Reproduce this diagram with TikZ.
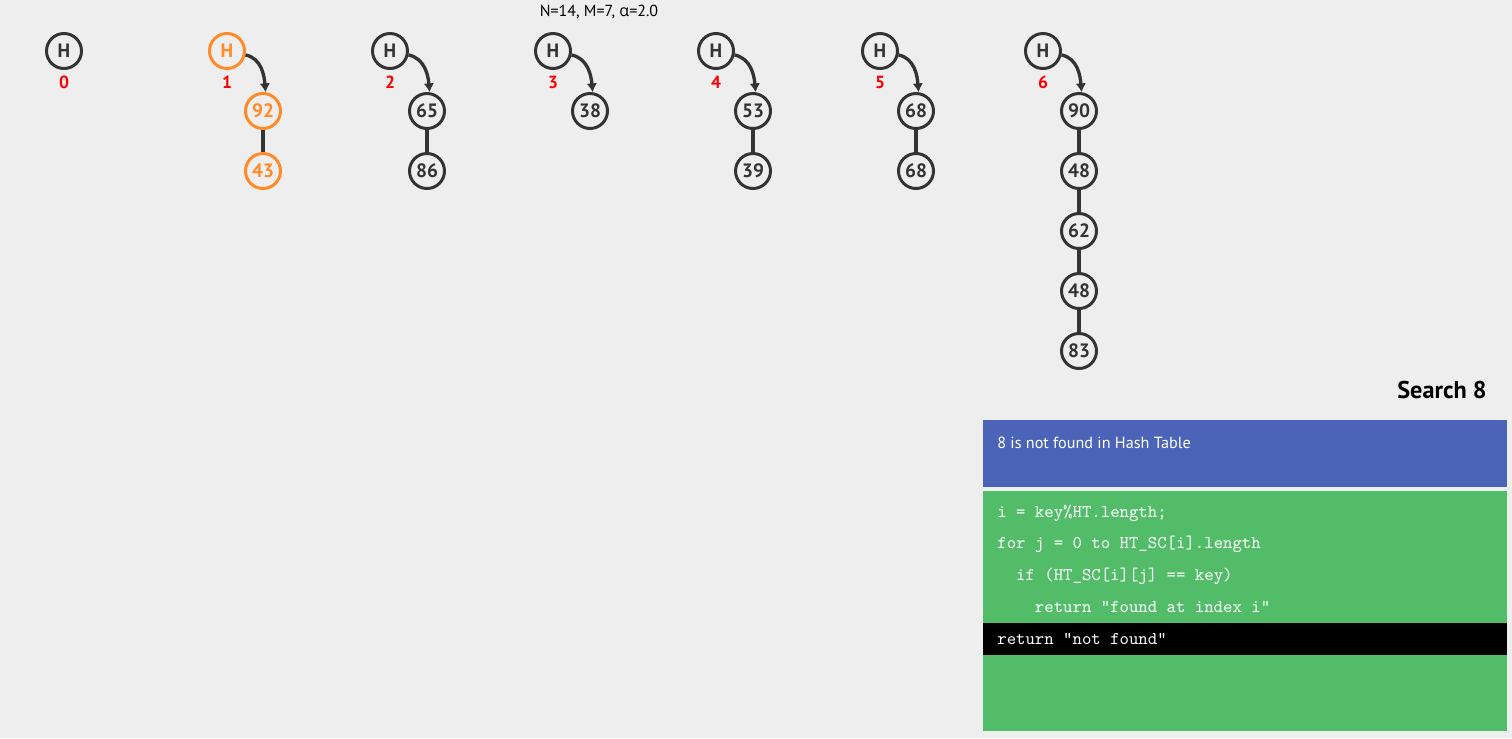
\documentclass[tikz,border=0pt]{standalone}
\usepackage{fontspec}
\setmainfont{PT Sans}
\newfontfamily\greekfont{Open Sans}
\usepackage{tikz}
\usetikzlibrary{arrows,arrows.meta,shapes,backgrounds,positioning,calc}
\definecolor{dark}{HTML}{333333}
\definecolor{hlorange}{HTML}{FF8A27}
\definecolor{bggray}{HTML}{EEEEEE}
\definecolor{infoblue}{HTML}{4B64B7}
\definecolor{codegreen}{HTML}{52BC69}
\tikzstyle{hnode}=[circle, draw=dark, line width=1.7pt, minimum size=0.7cm, inner sep=0pt, text=dark, font=\bfseries\fontsize{11}{13}\selectfont]
\tikzstyle{hot}=[draw=hlorange, text=hlorange]
\tikzstyle{lab}=[text=red, font=\bfseries\fontsize{10}{12}\selectfont]
\tikzstyle{link}=[draw=dark, line width=1.9pt]
\tikzstyle{ptr}=[link, -{Latex[length=5pt,width=6pt]}]
\tikzstyle{code}=[anchor=west, text=white, inner sep=0pt, font=\ttfamily\fontsize{10.2}{12}\selectfont]
\newcommand{\pgfBg}{
	\begin{pgfonlayer}{background}
		\fill[bggray] (current bounding box.south west) rectangle (current bounding box.north east);
	\end{pgfonlayer}
}

\begin{document}
\begin{tikzpicture}[x=0.02cm, y=0.02cm, label distance=0pt]
        \useasboundingbox (0,0) rectangle (1512,-738);
        %
        \node at (599,-12) [font=\fontsize{9.1}{11}\selectfont] (stats) {N=14, M=7, {\greekfont α}=2.0};
        %
        % heads
        \node at (64,-51) [hnode, label={[lab]below:0}] (h0) {H};
        \node at (227,-51) [hnode, hot, label={[lab]below:1}] (h1) {H};
        \node at (390,-51) [hnode, label={[lab]below:2}] (h2) {H};
        \node at (553,-51) [hnode, label={[lab]below:3}] (h3) {H};
        \node at (716,-51) [hnode, label={[lab]below:4}] (h4) {H};
        \node at (880,-51) [hnode, label={[lab]below:5}] (h5) {H};
        \node at (1043,-51) [hnode, label={[lab]below:6}] (h6) {H};
        %
        % chains
        \node at (263,-111) [hnode, hot] (c1a) {92};
        \node at (263,-171) [hnode, hot] (c1b) {43};
        \node at (427,-111) [hnode] (c2a) {65};
        \node at (427,-171) [hnode] (c2b) {86};
        \node at (590,-111) [hnode] (c3a) {38};
        \node at (753,-111) [hnode] (c4a) {53};
        \node at (753,-171) [hnode] (c4b) {39};
        \node at (916,-111) [hnode] (c5a) {68};
        \node at (916,-171) [hnode] (c5b) {68};
        \node at (1079,-111) [hnode] (c6a) {90};
        \node at (1079,-171) [hnode] (c6b) {48};
        \node at (1079,-231) [hnode] (c6c) {62};
        \node at (1079,-291) [hnode] (c6d) {48};
        \node at (1079,-351) [hnode] (c6e) {83};
        %
        \draw[ptr] (h1) to[out=-12, in=95] (c1a.82);
        \draw[ptr] (h2) to[out=-12, in=95] (c2a.82);
        \draw[ptr] (h3) to[out=-12, in=95] (c3a.82);
        \draw[ptr] (h4) to[out=-12, in=95] (c4a.82);
        \draw[ptr] (h5) to[out=-12, in=95] (c5a.82);
        \draw[ptr] (h6) to[out=-12, in=95] (c6a.82);
        \draw[link] (c1a) -- (c1b);
        \draw[link] (c2a) -- (c2b);
        \draw[link] (c4a) -- (c4b);
        \draw[link] (c5a) -- (c5b);
        \draw[link] (c6a) -- (c6b) -- (c6c) -- (c6d) -- (c6e);
        %
        % status panel
        \node at (1487,-390) [anchor=east, inner sep=0pt, font=\bfseries\fontsize{13.8}{16}\selectfont] (title) {Search 8};
        \fill[infoblue] (983,-420) rectangle (1507,-487);
        \node at (997,-443) [anchor=west, text=white, inner sep=0pt, font=\fontsize{9.2}{11}\selectfont] (msg) {8 is not found in Hash Table};
        \fill[codegreen] (983,-491) rectangle (1507,-731);
        \fill[black] (983,-623) rectangle (1507,-655);
        \node at (997,-513) [code] (l1) {i = key\%HT.length;};
        \node at (997,-544) [code] (l2) {for j = 0 to HT\_SC[i].length};
        \node at (997,-576) [code] (l3) {\ \ if (HT\_SC[i][j] == key)};
        \node at (997,-607) [code] (l4) {\ \ \ \ return "found at index i"};
        \node at (997,-639) [code] (l5) {return "not found"};
      %
      \pgfBg
\end{tikzpicture}
\end{document}
